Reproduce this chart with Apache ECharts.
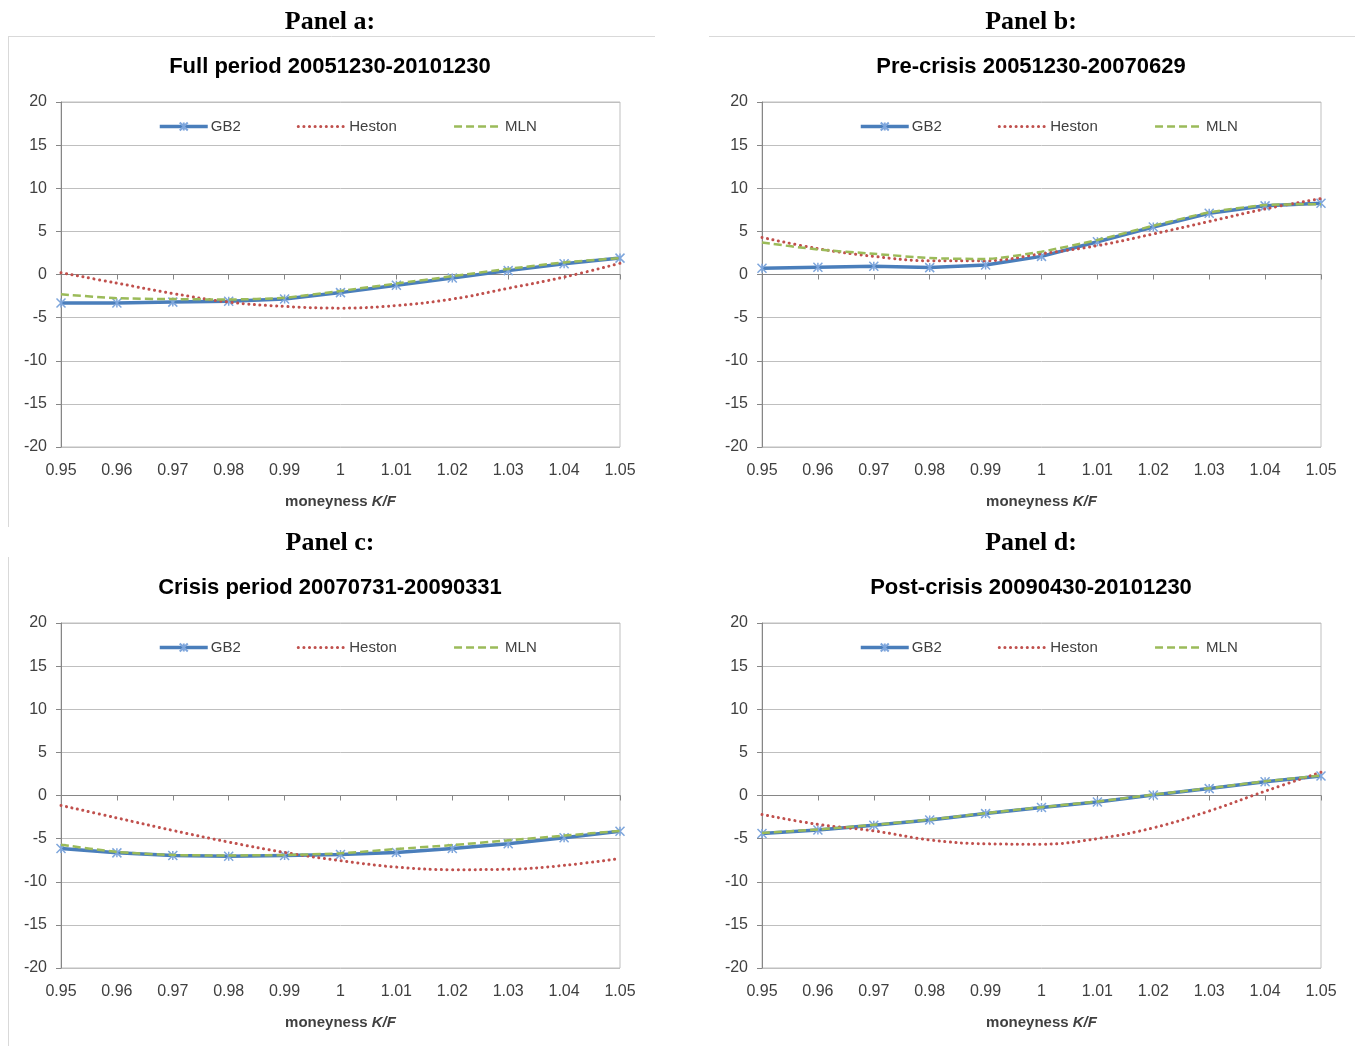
<!DOCTYPE html>
<html>
<head>
<meta charset="utf-8">
<script src="https://cdn.jsdelivr.net/npm/echarts@6/dist/echarts.min.js"></script>
<style>
  html, body { margin: 0; padding: 0; background: #fff; }
  #chart { width: 1362px; height: 1046px; }
</style>
</head>
<body>
<div id="chart"></div>
<script>
const moneyness = ['0.95', '0.96', '0.97', '0.98', '0.99', '1', '1.01', '1.02', '1.03', '1.04', '1.05'];
const yTicks = { min: -20, max: 20, step: 5 };
const seriesNames = ['GB2', 'Heston', 'MLN'];

const panelLabels = ['Panel a:', 'Panel b:', 'Panel c:', 'Panel d:'];
const chartTitles = [
  'Full period 20051230-20101230',
  'Pre-crisis 20051230-20070629',
  'Crisis period 20070731-20090331',
  'Post-crisis 20090430-20101230'
];

// panel a: full period
const gb2_a = [-3.3, -3.3, -3.2, -3.1, -2.85, -2.1, -1.25, -0.4, 0.45, 1.25, 1.9];
const heston_a = [0.2, -1.0, -2.2, -3.2, -3.7, -3.9, -3.6, -2.85, -1.6, -0.3, 1.3];
const mln_a = [-2.3, -2.75, -2.85, -2.9, -2.7, -1.9, -1.05, -0.2, 0.65, 1.4, 1.9];

// panel b: pre-crisis
const gb2_b = [0.73, 0.85, 0.96, 0.8, 1.1, 2.1, 3.8, 5.5, 7.1, 7.96, 8.27];
const heston_b = [4.3, 3.0, 2.1, 1.6, 1.6, 2.4, 3.35, 4.7, 6.15, 7.6, 8.8];
const mln_b = [3.7, 2.9, 2.4, 1.9, 1.8, 2.65, 4.0, 5.65, 7.2, 8.05, 8.15];

// panel c: crisis
const gb2_c = [-6.15, -6.65, -6.95, -7.05, -6.95, -6.85, -6.6, -6.15, -5.6, -4.9, -4.15];
const heston_c = [-1.15, -2.6, -4.05, -5.4, -6.6, -7.55, -8.3, -8.6, -8.55, -8.1, -7.3];
const mln_c = [-5.7, -6.55, -6.9, -6.95, -6.9, -6.7, -6.2, -5.75, -5.2, -4.65, -4.1];

// panel d: post-crisis
const gb2_d = [-4.4, -4.0, -3.45, -2.85, -2.1, -1.4, -0.75, 0.05, 0.8, 1.6, 2.25];
const heston_d = [-2.2, -3.35, -4.1, -5.15, -5.6, -5.65, -5.0, -3.75, -1.8, 0.5, 2.7];
const mln_d = [-4.35, -3.95, -3.4, -2.8, -2.05, -1.35, -0.7, 0.1, 0.85, 1.65, 2.3];

const panelData = [
  [gb2_a, heston_a, mln_a],
  [gb2_b, heston_b, mln_b],
  [gb2_c, heston_c, mln_c],
  [gb2_d, heston_d, mln_d]
];

// panel geometry (plot area left and top)
const plotLeft = [61, 762, 61, 762];
const plotTop = [102, 102, 623, 623];
const plotW = 559, plotH = 345;

const blue = '#4a7ebb', red = '#c0504d', green = '#9bbb59';
const textColor = '#404040';
const asterisk = 'path://M0,0L10,10M10,0L0,10M5,0L5,10';

const gb2Line = { color: blue, width: 3.5 };
const hestonLine = { color: red, width: 3, type: [0.1, 5.5], cap: 'round' };
const mlnLine = { color: green, width: 2.5, type: [8, 4] };

var chart = echarts.init(document.getElementById('chart'));

let grids = [], xAxes = [], yAxes = [], series = [], legends = [], graphics = [];

for (let i = 0; i < 4; i++) {
  grids.push({
    left: plotLeft[i], top: plotTop[i], width: plotW, height: plotH,
    show: true, borderColor: '#bfbfbf', borderWidth: 1
  });
  xAxes.push({
    gridIndex: i,
    type: 'category',
    data: moneyness,
    boundaryGap: false,
    axisLine: { lineStyle: { color: '#868686' } },
    axisTick: { show: true, length: 5, lineStyle: { color: '#868686' } },
    axisLabel: { color: textColor, fontSize: 16, fontFamily: 'Liberation Sans', margin: 16 },
    name: 'moneyness {i|K/F}',
    nameLocation: 'middle',
    nameGap: 47,
    nameTextStyle: {
      color: textColor, fontSize: 15, fontWeight: 'bold', fontFamily: 'Liberation Sans',
      rich: { i: { fontStyle: 'italic', fontWeight: 'bold', fontSize: 15, color: textColor, fontFamily: 'Liberation Sans' } }
    }
  });
  yAxes.push({
    gridIndex: i,
    type: 'value',
    min: yTicks.min, max: yTicks.max, interval: yTicks.step,
    axisLine: { show: true, lineStyle: { color: '#868686' } },
    axisTick: { show: true, length: 5, lineStyle: { color: '#868686' } },
    axisLabel: { color: textColor, fontSize: 16, fontFamily: 'Liberation Sans', margin: 14 },
    splitLine: { lineStyle: { color: '#bfbfbf' } }
  });

  const [g, h, m] = panelData[i];
  series.push({
    name: 'GB2', type: 'line', xAxisIndex: i, yAxisIndex: i, data: g,
    symbol: asterisk, symbolSize: 9,
    itemStyle: { color: blue, borderColor: '#7ea6dc', borderWidth: 1.5 },
    lineStyle: gb2Line,
    z: 2
  });
  series.push({
    name: 'Heston', type: 'line', xAxisIndex: i, yAxisIndex: i, data: h,
    symbol: 'none', smooth: 0.4,
    itemStyle: { color: red },
    lineStyle: hestonLine,
    z: 3
  });
  series.push({
    name: 'MLN', type: 'line', xAxisIndex: i, yAxisIndex: i, data: m,
    symbol: 'none', smooth: 0.2,
    itemStyle: { color: green },
    lineStyle: mlnLine,
    z: 4
  });

  legends.push({
    data: [
      { name: seriesNames[0], lineStyle: gb2Line },
      { name: seriesNames[1], itemStyle: { opacity: 0 }, lineStyle: hestonLine },
      { name: seriesNames[2], itemStyle: { opacity: 0 }, lineStyle: mlnLine }
    ],
    left: plotLeft[i] + 92, top: plotTop[i] + 12,
    itemWidth: 48, itemHeight: 10, itemGap: 56,
    textStyle: { color: textColor, fontSize: 15, fontFamily: 'Liberation Sans', padding: [0, 0, 0, -2] }
  });

  const cx = plotLeft[i] + 269;
  graphics.push({
    type: 'text',
    style: {
      x: cx, y: plotTop[i] - 80, text: panelLabels[i],
      textAlign: 'center', textVerticalAlign: 'middle',
      font: 'bold 26px "Liberation Serif"', fill: '#000'
    }
  });
  graphics.push({
    type: 'text',
    style: {
      x: cx, y: plotTop[i] - 35, text: chartTitles[i],
      textAlign: 'center', textVerticalAlign: 'middle',
      font: 'bold 22px "Liberation Sans"', fill: '#000'
    }
  });
}

// chart-area borders as seen in the picture
const borderStyle = { stroke: '#d9d9d9', lineWidth: 1 };
graphics.push({ type: 'line', shape: { x1: 8, y1: 36.5, x2: 655, y2: 36.5 }, style: borderStyle });
graphics.push({ type: 'line', shape: { x1: 8.5, y1: 36, x2: 8.5, y2: 527 }, style: borderStyle });
graphics.push({ type: 'line', shape: { x1: 709, y1: 36.5, x2: 1355, y2: 36.5 }, style: borderStyle });
graphics.push({ type: 'line', shape: { x1: 8.5, y1: 557, x2: 8.5, y2: 1046 }, style: borderStyle });

option = {
  animation: false,
  backgroundColor: '#fff',
  grid: grids,
  xAxis: xAxes,
  yAxis: yAxes,
  legend: legends,
  series: series,
  graphic: graphics
};

chart.setOption(option);
</script>
</body>
</html>
